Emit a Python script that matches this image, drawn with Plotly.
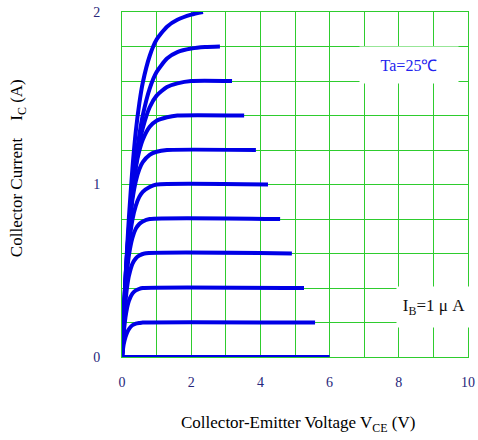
import plotly.graph_objects as go

# Output characteristics: collector current vs collector-emitter voltage
vce_00 = [0, 6.0]
ic_00 = [0, 0]

vce_02 = [0, 0.05, 0.1, 0.15, 0.2, 0.3, 0.4, 0.5, 0.6, 5.58]
ic_02 = [0, 0.075, 0.115, 0.143, 0.162, 0.184, 0.193, 0.197, 0.2, 0.2]

vce_04 = [0, 0.05, 0.1, 0.15, 0.2, 0.3, 0.4, 0.5, 0.6, 5.26]
ic_04 = [0, 0.14, 0.23, 0.288, 0.326, 0.367, 0.386, 0.395, 0.4, 0.4]

vce_06 = [0, 0.05, 0.1, 0.15, 0.2, 0.3, 0.4, 0.5, 0.65, 4.91]
ic_06 = [0, 0.19, 0.32, 0.41, 0.47, 0.54, 0.572, 0.588, 0.6, 0.6]

vce_08 = [0, 0.05, 0.1, 0.15, 0.2, 0.3, 0.4, 0.5, 0.6, 0.8, 4.57]
ic_08 = [0, 0.22, 0.39, 0.505, 0.59, 0.69, 0.744, 0.771, 0.786, 0.8, 0.8]

vce_10 = [0, 0.05, 0.1, 0.15, 0.2, 0.3, 0.4, 0.5, 0.6, 0.8, 1.0, 4.22]
ic_10 = [0, 0.23, 0.41, 0.545, 0.65, 0.795, 0.878, 0.928, 0.957, 0.985, 1.0, 1.0]

vce_12 = [0, 0.05, 0.1, 0.15, 0.2, 0.3, 0.4, 0.5, 0.6, 0.8, 1.0, 1.3, 3.87]
ic_12 = [0, 0.25, 0.455, 0.61, 0.735, 0.91, 1.02, 1.088, 1.13, 1.172, 1.19, 1.2, 1.2]

vce_14 = [0, 0.05, 0.1, 0.15, 0.2, 0.3, 0.4, 0.5, 0.6, 0.8, 1.0, 1.3, 1.6, 3.53]
ic_14 = [0, 0.245, 0.447, 0.613, 0.75, 0.958, 1.1, 1.195, 1.26, 1.335, 1.37, 1.39, 1.4, 1.4]

vce_16 = [0, 0.05, 0.1, 0.15, 0.2, 0.3, 0.4, 0.5, 0.6, 0.8, 1.0, 1.3, 1.6, 2.0, 3.18]
ic_16 = [0, 0.22, 0.41, 0.57, 0.712, 0.94, 1.107, 1.232, 1.326, 1.448, 1.515, 1.565, 1.586, 1.6, 1.6]

vce_18 = [0, 0.05, 0.1, 0.15, 0.2, 0.3, 0.4, 0.5, 0.6, 0.8, 1.0, 1.3, 1.6, 2.0, 2.4, 2.83]
ic_18 = [0, 0.21, 0.4, 0.565, 0.71, 0.95, 1.14, 1.285, 1.4, 1.556, 1.652, 1.73, 1.767, 1.788, 1.797, 1.8]

vce_20 = [0, 0.05, 0.1, 0.15, 0.2, 0.3, 0.4, 0.5, 0.6, 0.8, 1.0, 1.3, 1.6, 2.0, 2.34]
ic_20 = [0, 0.24, 0.45, 0.64, 0.81, 1.09, 1.31, 1.47, 1.59, 1.745, 1.84, 1.915, 1.955, 1.985, 2.0]

x_ticks = [0, 1, 2, 3, 4, 5, 6, 7, 8, 9, 10]
x_labels = ["0", "", "2", "", "4", "", "6", "", "8", "", "10"]
y_ticks = [0, 0.2, 0.4, 0.6, 0.8, 1.0, 1.2, 1.4, 1.6, 1.8, 2.0]
y_labels = ["0", "", "", "", "", "1", "", "", "", "", "2"]

curves = [
    (vce_00, ic_00), (vce_02, ic_02), (vce_04, ic_04), (vce_06, ic_06),
    (vce_08, ic_08), (vce_10, ic_10), (vce_12, ic_12), (vce_14, ic_14),
    (vce_16, ic_16), (vce_18, ic_18), (vce_20, ic_20),
]

CURVE = "#0000e6"
GRID = "#2ecc2e"
TICK_FONT = dict(family="Liberation Serif", size=14, color="#26267a")

fig = go.Figure()
for vx, iy in curves:
    fig.add_trace(go.Scatter(
        x=vx, y=iy, mode="lines",
        line=dict(color=CURVE, width=4, shape="spline", smoothing=0.6),
        showlegend=False, hoverinfo="skip", cliponaxis=False,
    ))

fig.update_layout(
    template="none",
    width=478, height=440,
    margin=dict(l=122, r=10, t=12, b=83, autoexpand=False),
    paper_bgcolor="white", plot_bgcolor="white",
    font=dict(family="Liberation Serif", color="black"),
    xaxis=dict(
        range=[0, 10], tickvals=x_ticks, ticktext=x_labels, automargin=False,
        showgrid=True, gridcolor=GRID, gridwidth=1,
        showline=True, linecolor=GRID, linewidth=1, mirror=True,
        zeroline=False, ticks="", ticklabelstandoff=12, tickfont=TICK_FONT,
    ),
    yaxis=dict(
        range=[0, 2], tickvals=y_ticks, ticktext=y_labels, automargin=False,
        showgrid=True, gridcolor=GRID, gridwidth=1,
        showline=True, linecolor=GRID, linewidth=1, mirror=True,
        zeroline=False, ticks="", ticklabelstandoff=18, tickfont=TICK_FONT,
    ),
    annotations=[
        dict(text="Ta=25℃", x=8.3, y=1.69, xref="x", yref="y",
             showarrow=False, bgcolor="white", width=96, height=34,
             font=dict(family="Liberation Serif", size=16, color="#2323ee")),
        dict(text="I<sub>B</sub>=1 μ A", x=9.03, y=0.29, xref="x", yref="y",
             showarrow=False, bgcolor="white", width=72, height=38,
             font=dict(family="Liberation Serif", size=17, color="#111111")),
        dict(text="Collector-Emitter Voltage V<sub>CE</sub> (V)",
             x=0.509, y=-0.194, xref="paper", yref="paper",
             xanchor="center", yanchor="middle", showarrow=False,
             font=dict(family="Liberation Serif", size=17, color="black")),
        dict(text="Collector Current&nbsp;&nbsp;&nbsp;&nbsp;I<sub>C</sub> (A)",
             x=-0.30, y=0.548, xref="paper", yref="paper", textangle=-90,
             xanchor="center", yanchor="middle", showarrow=False,
             font=dict(family="Liberation Serif", size=17, color="black")),
    ],
)

fig.write_html("out.html")
